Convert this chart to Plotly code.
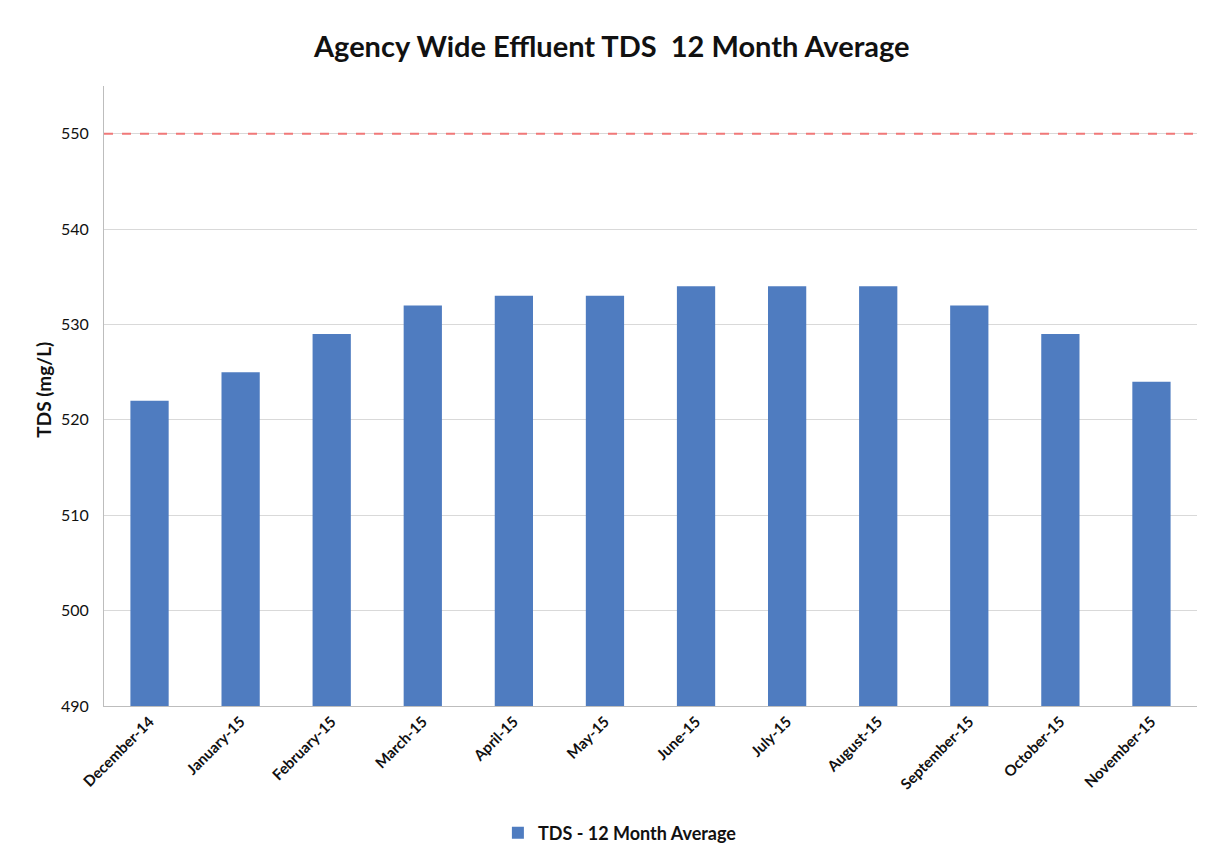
import plotly.graph_objects as go

months = ["December-14", "January-15", "February-15", "March-15", "April-15", "May-15",
          "June-15", "July-15", "August-15", "September-15", "October-15", "November-15"]
tds_avg = [522, 525, 529, 532, 533, 533, 534, 534, 534, 532, 529, 524]
limit_value = 550
y_ticks = [490, 500, 510, 520, 530, 540, 550]

FONT = "Lato"

fig = go.Figure()
fig.add_trace(go.Bar(
    x=months, y=tds_avg, name="<b>TDS - 12 Month Average</b>",
    marker=dict(color="#4f7cc0", line=dict(width=0)),
))

# regulatory limit line
fig.add_shape(type="line", xref="paper", yref="y", x0=0, x1=1,
              y0=limit_value, y1=limit_value,
              line=dict(color="#f07878", width=2, dash="dash"))

# y-axis title placed close to the tick labels
fig.add_annotation(text="<b>TDS (mg/L)</b>", textangle=-90,
                   xref="paper", yref="paper", x=-0.055, y=0.51,
                   xanchor="center", yanchor="middle", showarrow=False,
                   font=dict(family=FONT, size=19, color="#111111"))

fig.update_layout(
    width=1209, height=857,
    margin=dict(l=104, r=12, t=86, b=151, autoexpand=False),
    paper_bgcolor="white", plot_bgcolor="white",
    title=dict(text="<b>Agency Wide Effluent TDS  12 Month Average</b>",
               x=0.506, xanchor="center", y=0.945, yanchor="middle",
               font=dict(family=FONT, size=29, color="#111111")),
    bargap=0.58,
    showlegend=True,
    legend=dict(orientation="h", x=0.472, xanchor="center", y=-0.205, yanchor="middle",
                font=dict(family=FONT, size=18, color="#111111"),
                itemwidth=30),
    font=dict(family=FONT, color="#111111"),
)

fig.update_xaxes(
    tickangle=-45, tickfont=dict(family=FONT, size=15, color="#111111"),
    showline=True, linecolor="#bdbdbd", linewidth=1, showgrid=False,
    ticks="", automargin=False,
    tickprefix="<b>", ticksuffix="</b>",
)
fig.update_yaxes(
    range=[490, 555], tickvals=y_ticks,
    tickfont=dict(family=FONT, size=16, color="#111111"),
    showgrid=True, gridcolor="#d9d9d9", gridwidth=1,
    showline=True, linecolor="#bdbdbd", linewidth=1,
    zeroline=False, automargin=False, ticklabelstandoff=11,
    tickprefix="<b>", ticksuffix="</b>",
)

fig.write_html("out.html")
